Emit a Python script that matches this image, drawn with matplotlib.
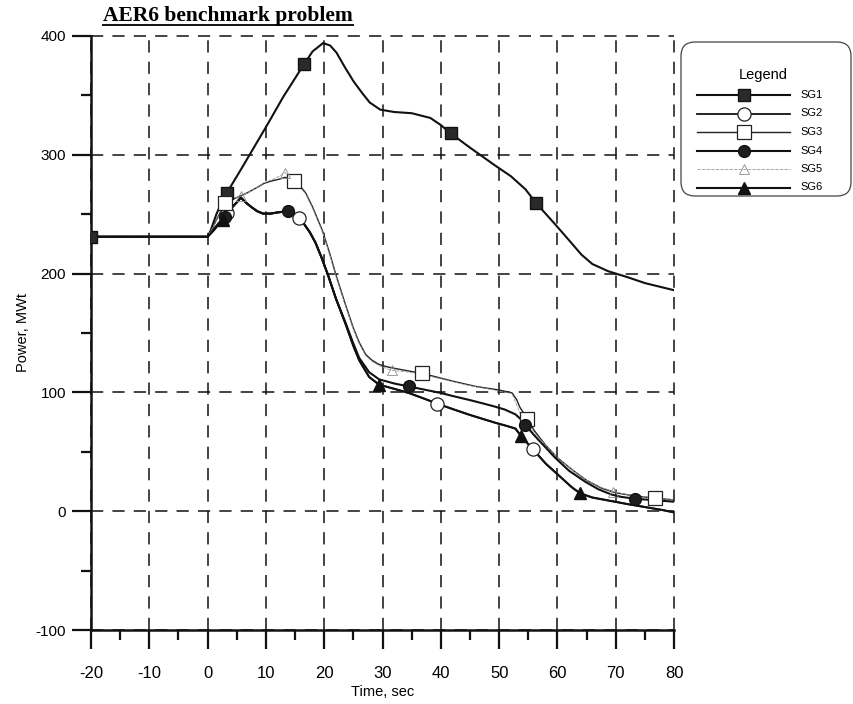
import numpy as np
import matplotlib
matplotlib.use("Agg")
import matplotlib.pyplot as plt
from matplotlib.lines import Line2D
from matplotlib.patches import FancyBboxPatch

plt.rcParams["font.family"] = ["Liberation Sans", "DejaVu Sans"]
plt.rcParams["axes.unicode_minus"] = False

# ---- axis ticks -------------------------------------------------------
time_ticks = [-20, -10, 0, 10, 20, 30, 40, 50, 60, 70, 80]
power_ticks = [-100, 0, 100, 200, 300, 400]

# ---- steam generator power traces (time in s, power in MWt) -----------
sg1_t = [-20, 0, 0.5, 1.5, 2.5, 3.3, 6, 10.2, 13, 16.5, 18, 19.8, 21, 22.1,
         23.5, 25, 26.5, 27.8, 29.6, 32, 35, 38.2, 40, 41.7, 45, 49.3, 52,
         54.5, 56.4, 59.6, 62, 64.1, 66, 68.7, 72, 75, 80]
sg1_p = [231, 231, 236, 250, 261, 268, 290, 325, 349, 376, 387, 394, 392, 386,
         374, 362, 352, 344, 338, 336, 335, 331, 325, 318, 306, 291, 282,
         271, 259, 241.5, 228, 216, 208, 202, 197, 192, 186]

sg2_t = [-20, 0, 1, 2, 3, 4, 5, 5.7, 6.5, 7.5, 8.5, 9.5, 10.8, 12, 13.7, 15,
         15.7, 16.5, 17.5, 18.5, 19.5, 20.7, 22, 23.7, 25, 26, 27.7, 29.4, 32,
         34.5, 37, 39.4, 42, 45, 49.3, 51.5, 52.8, 53.8, 55.8, 58, 60.7, 62.5,
         63.9, 66, 69.3, 72, 75, 78, 80]
sg2_p = [231, 231, 237, 243, 249, 255, 260, 264, 260, 256, 252.5, 250.5, 250.5,
         251.5, 252.5, 249.5, 246.5, 242, 235, 226, 214, 198, 179, 157, 139,
         127, 113, 106.5, 103, 99.5, 95, 90.5, 86, 81, 74.5, 71.5, 69.5, 63,
         52, 40, 28, 20, 15, 11.5, 8.5, 6, 3.5, 1, -1]

sg3_t = [-20, 0, 1, 2, 3, 4, 5, 5.7, 6.8, 8.3, 9.7, 11, 12.3, 13.3, 14.8,
         15.8, 16.8, 18, 19.7, 21, 22, 23.5, 25, 26, 27.1, 28.2, 29.4, 30.8,
         32.3, 34.5, 36.8, 40, 42, 44.2, 46, 48, 50, 52.2, 53, 53.5, 54.8, 56,
         57.9, 60, 62.5, 65, 67.5, 70, 73, 76.7, 80]
sg3_p = [231, 231, 240, 250, 259.5, 262, 264, 265.5, 268, 272, 276, 278, 279.5,
         281, 278, 274, 268, 256, 236, 216, 199, 176, 154, 142, 132, 127,
         123.5, 121.5, 120, 118, 116, 112, 109.5, 107, 105, 103.5, 102, 99.6,
         94, 88, 78, 68, 56, 45, 35, 26, 19.5, 15.5, 13, 11, 9.5]

sg4_t = [-20, 0, 1, 2, 3, 4, 5, 5.7, 6.5, 7.5, 8.5, 9.5, 10.8, 12, 13.7, 15,
         15.7, 16.5, 17.5, 18.5, 19.5, 20.7, 22, 23.7, 25, 26, 27.7, 29.4, 32,
         34.5, 37, 40, 42, 45, 47, 49.3, 51, 52.8, 53.8, 54.5, 56, 57.9, 59.6,
         62, 64.7, 67, 69.3, 71, 73.3, 76, 80]
sg4_p = [231, 231, 237, 243, 248.5, 255, 260, 264, 260, 256, 252.5, 250.5,
         250.5, 251.5, 252.5, 249.5, 246.5, 242, 235, 226, 214, 198, 179, 158,
         141, 129, 117, 111, 107.5, 105, 102.5, 99.5, 97, 93.5, 91, 88, 85.5,
         81.5, 77, 72.5, 64, 54, 45, 34, 25, 18.5, 14, 12, 10.5, 9.5, 8]

sg5_t = [-20, 0, 1, 2, 3, 4, 5, 5.7, 6.8, 8.3, 9.7, 11, 12.3, 13.3, 14.5,
         15.8, 16.8, 18, 19.7, 21, 22, 23.5, 25, 26, 27.1, 28.2, 29.4, 31.6,
         34.5, 36.8, 40, 44.2, 48, 52.2, 53.8, 56, 57.9, 60, 62.5, 65, 67.5,
         69.6, 73, 76.7, 80]
sg5_p = [231, 231, 240, 249, 257, 261, 264, 265, 268, 272, 276.5, 279, 282,
         285, 279, 273, 267, 255, 235, 215, 198, 175, 153, 141, 131, 126,
         122.5, 118.5, 117, 115, 111.5, 106.5, 103, 99, 80, 66, 56, 45, 35,
         26, 20, 16.5, 13, 11, 9.5]

sg6_t = [-20, 0, 1, 2, 2.6, 3, 4, 5, 5.7, 6.5, 7.5, 8.5, 9.5, 10.8, 12, 13.7,
         15, 15.7, 16.5, 17.5, 18.5, 19.5, 20.7, 22, 23.7, 25, 26, 27.7, 29.4,
         32, 34.5, 37, 39.4, 42, 45, 49.3, 51.5, 52.8, 53.8, 55.8, 58, 60.7,
         62.5, 63.9, 66, 69.3, 72, 75, 78, 80]
sg6_p = [231, 231, 236, 242, 245, 248, 254.5, 260, 264, 260, 256, 252.5, 250.5,
         250.5, 251.5, 252.5, 249.5, 246.5, 242, 235, 226, 214, 198, 179, 157,
         139, 127, 113, 106.5, 103, 99.5, 95, 90.5, 86, 81, 74.5, 71.5, 69.5,
         63, 52, 40, 28, 20, 15, 11.5, 8.5, 6, 3.5, 1, -1]

# symbol positions along each trace (time, s)
sg1_marks = [-20, 3.3, 16.5, 41.7, 56.4]
sg2_marks = [3.3, 15.7, 39.4, 55.8]
sg3_marks = [3.0, 14.8, 36.8, 54.8, 76.7]
sg4_marks = [2.9, 13.7, 34.5, 54.5, 73.3]
sg5_marks = [5.7, 13.3, 31.6, 69.6]
sg6_marks = [2.6, 29.4, 53.8, 63.9]

labels = ["SG1", "SG2", "SG3", "SG4", "SG5", "SG6"]

styles = {
    "SG1": dict(line=dict(color="#111111", lw=1.5),
                mark=dict(marker="s", ms=8, mfc="#2a2a2a", mec="#111111", mew=1.0)),
    "SG2": dict(line=dict(color="#111111", lw=1.3),
                mark=dict(marker="o", ms=9.5, mfc="white", mec="#222222", mew=0.9)),
    "SG3": dict(line=dict(color="#222222", lw=1.0),
                mark=dict(marker="s", ms=10, mfc="white", mec="#222222", mew=0.9)),
    "SG4": dict(line=dict(color="#111111", lw=1.5),
                mark=dict(marker="o", ms=8.5, mfc="#1e1e1e", mec="#111111", mew=1.0)),
    "SG5": dict(line=dict(color="#9a9a9a", lw=0.6, ls=(0, (4, 1.5))),
                mark=dict(marker="^", ms=7.5, mfc="none", mec="#8c8c8c", mew=0.6)),
    "SG6": dict(line=dict(color="#111111", lw=1.5),
                mark=dict(marker="^", ms=8.5, mfc="#111111", mec="#111111", mew=1.0)),
}

series = [
    ("SG1", sg1_t, sg1_p, sg1_marks),
    ("SG2", sg2_t, sg2_p, sg2_marks),
    ("SG3", sg3_t, sg3_p, sg3_marks),
    ("SG4", sg4_t, sg4_p, sg4_marks),
    ("SG5", sg5_t, sg5_p, sg5_marks),
    ("SG6", sg6_t, sg6_p, sg6_marks),
]

fig = plt.figure(figsize=(8.54, 7.04), dpi=100)
ax = fig.add_axes([0.1066, 0.1051, 0.6827, 0.8438])

for name, t, p, marks in series:
    st = styles[name]
    ax.plot(t, p, zorder=3, solid_capstyle="round", **st["line"])
    mp = np.interp(marks, t, p)
    ax.plot(marks, mp, ls="none", zorder=4, **st["mark"])

ax.set_xlim(-20, 80)
ax.set_ylim(-100, 400)
ax.set_xticks(time_ticks)
ax.set_yticks(power_ticks)
ax.set_xticks(np.arange(-15, 80, 10), minor=True)
ax.set_yticks(np.arange(-50, 400, 100), minor=True)

ax.grid(True, which="major", color="#111111", lw=1.1, ls=(0, (8, 6)))
for gl in ax.get_xgridlines() + ax.get_ygridlines():
    gl.set_clip_on(False)

for side in ("top", "right"):
    ax.spines[side].set_visible(False)
for side in ("left", "bottom"):
    ax.spines[side].set_linewidth(1.8)
    ax.spines[side].set_color("#111111")

ax.tick_params(which="major", direction="out", length=14, width=1.6, color="#111111")
ax.tick_params(which="minor", direction="out", length=7, width=1.6, color="#111111")
ax.tick_params(axis="y", which="major", pad=4, labelsize=11)
ax.tick_params(axis="x", which="major", pad=12, labelsize=12)

ax.set_xlabel("Time, sec", fontsize=10.5, labelpad=3)
ax.set_ylabel("Power, MWt", fontsize=10.5, labelpad=4)

# title with underline
title = fig.text(103 / 854, 1 - 16 / 704, "AER6 benchmark problem",
                 family=["Liberation Serif", "DejaVu Serif"], weight="bold",
                 fontsize=15.5, ha="left", va="center")
fig.canvas.draw()
bb = title.get_window_extent()
W, H = fig.bbox.width, fig.bbox.height
uy = (bb.y0 + 1) / H
fig.add_artist(Line2D([bb.x0 / W, bb.x1 / W], [uy, uy], transform=fig.transFigure,
                      color="#111111", lw=1.4))

# legend panel (inches from lower-left corner)
box = FancyBboxPatch((6.81, (704 - 196) / 100), 1.70, 1.54,
                     boxstyle="round,pad=0,rounding_size=0.14",
                     transform=fig.dpi_scale_trans, fc="white", ec="#444444",
                     lw=0.9, zorder=5)
fig.add_artist(box)
fig.text(7.63, (704 - 75) / 100, "Legend", transform=fig.dpi_scale_trans,
         fontsize=10.5, ha="center", va="center", zorder=6)
row_y = [95, 113.5, 132, 150.5, 169, 187.5]
for name, ry in zip(labels, row_y):
    st = styles[name]
    y = (704 - ry) / 100
    fig.add_artist(Line2D([6.97, 7.90], [y, y], transform=fig.dpi_scale_trans,
                          zorder=6, **st["line"]))
    fig.add_artist(Line2D([7.435], [y], transform=fig.dpi_scale_trans, ls="none",
                          zorder=7, **st["mark"]))
    fig.text(8.00, y, name, transform=fig.dpi_scale_trans, fontsize=8,
             ha="left", va="center", zorder=6)

fig.savefig("out.png", dpi=100, facecolor="white")
